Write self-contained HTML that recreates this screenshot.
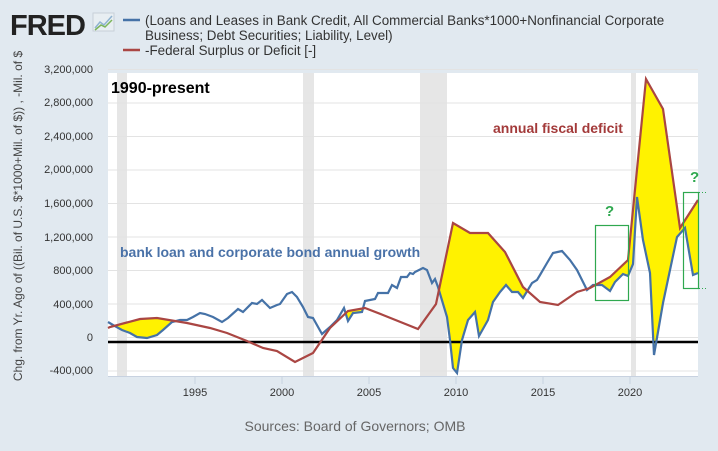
<!DOCTYPE html>
<html><head><style>
body{margin:0;width:718px;height:451px;background:#e1e9f0;overflow:hidden;font-family:"Liberation Sans",sans-serif}
</style></head><body>
<svg width="718" height="451" xmlns="http://www.w3.org/2000/svg" style="position:absolute;left:0;top:0">
<defs>
<clipPath id="abovBlue"><polygon points="108,73 108,322 113,325 122,330 130,333 137,337 147,338 157,335 163,330 172,322 180,320 187,320 193,317 200,313 205,314 213,317 222,322 228,318 238,309 243,312 252,303 257,304 262,300 270,308 277,305 280,304 287,294 292,292 297,297 303,307 308,317 313,318 322,334 330,327 337,320 344,308 348,321 353,313 362,312 365,301 375,299 378,293 388,293 392,285 397,288 401,277 407,277 410,273 413,274 415,272 423,268 427,270 432,283 435,279 438,287 447,317 450,340 453,368 457,373 462,340 468,320 475,312 479,336 488,320 493,302 500,292 506,285 512,292 518,292 523,298 532,283 537,280 540,275 547,263 553,253 562,251 570,260 577,270 587,290 593,285 602,285 610,291 615,282 623,274 628,276 633,264 637,197 643,240 650,273 654,355 663,303 677,237 685,228 693,275 698,273 698,73"/></clipPath>
</defs>
<rect x="108" y="73" width="590" height="303" fill="#fff"/>
<g fill="#e6e6e6"><rect x="117" y="73" width="10" height="303"/><rect x="303" y="73" width="11" height="303"/><rect x="420" y="73" width="27" height="303"/><rect x="631" y="73" width="5" height="303"/></g>
<g stroke="#e3e3e3" stroke-width="1">
<line x1="108" x2="698" y1="69.5" y2="69.5"/><line x1="108" x2="698" y1="103" y2="103"/><line x1="108" x2="698" y1="136.5" y2="136.5"/><line x1="108" x2="698" y1="170" y2="170"/><line x1="108" x2="698" y1="203.5" y2="203.5"/><line x1="108" x2="698" y1="237" y2="237"/><line x1="108" x2="698" y1="270.5" y2="270.5"/><line x1="108" x2="698" y1="304" y2="304"/><line x1="108" x2="698" y1="337.5" y2="337.5"/><line x1="108" x2="698" y1="371" y2="371"/>
</g>
<line x1="108" x2="698" y1="376.5" y2="376.5" stroke="#c8d2e0"/>
<g stroke="#c8d2e0"><line x1="195" x2="195" y1="376" y2="384"/><line x1="282" x2="282" y1="376" y2="384"/><line x1="369" x2="369" y1="376" y2="384"/><line x1="456" x2="456" y1="376" y2="384"/><line x1="543" x2="543" y1="376" y2="384"/><line x1="630" x2="630" y1="376" y2="384"/></g>
<polygon clip-path="url(#abovBlue)" fill="#fff200" points="108,376 108,328 110,327 140,319 157,318 187,323 210,328 227,333 247,341 263,348 277,351 295,362 313,353 330,328 348,311 365,308 383,315 418,329 436,304 453,223 470,233 488,233 505,252 523,287 540,302 558,305 577,292 590,288 610,277 628,260 646,79 663,109 680,228 698,200 698,376"/>
<line x1="108" x2="698" y1="342" y2="342" stroke="#000" stroke-width="2.5"/>
<polyline fill="none" stroke="#4572a7" stroke-width="2.2" points="108,322 113,325 122,330 130,333 137,337 147,338 157,335 163,330 172,322 180,320 187,320 193,317 200,313 205,314 213,317 222,322 228,318 238,309 243,312 252,303 257,304 262,300 270,308 277,305 280,304 287,294 292,292 297,297 303,307 308,317 313,318 322,334 330,327 337,320 344,308 348,321 353,313 362,312 365,301 375,299 378,293 388,293 392,285 397,288 401,277 407,277 410,273 413,274 415,272 423,268 427,270 432,283 435,279 438,287 447,317 450,340 453,368 457,373 462,340 468,320 475,312 479,336 488,320 493,302 500,292 506,285 512,292 518,292 523,298 532,283 537,280 540,275 547,263 553,253 562,251 570,260 577,270 587,290 593,285 602,285 610,291 615,282 623,274 628,276 633,264 637,197 643,240 650,273 654,355 663,303 677,237 685,228 693,275 698,273"/>
<polyline fill="none" stroke="#aa4643" stroke-width="2.2" points="108,328 110,327 140,319 157,318 187,323 210,328 227,333 247,341 263,348 277,351 295,362 313,353 330,328 348,311 365,308 383,315 418,329 436,304 453,223 470,233 488,233 505,252 523,287 540,302 558,305 577,292 590,288 610,277 628,260 646,79 663,109 680,228 698,200"/>
<g fill="none" stroke="#2fa84f" stroke-width="1.2"><rect x="595.5" y="225.5" width="33" height="75"/><rect x="683.5" y="192.5" width="15" height="96"/></g>
<g stroke="#2fa84f" stroke-dasharray="1,2"><line x1="699" x2="706" y1="192.5" y2="192.5"/><line x1="699" x2="706" y1="288.5" y2="288.5"/></g>
<g font-family="'Liberation Sans','Noto Sans CJK SC',sans-serif" font-weight="bold">
<text x="111" y="93" font-size="16" fill="#000">1990-present</text>
<text x="493" y="133" font-size="14" fill="#a33a3a">annual fiscal deficit</text>
<text x="120" y="257" font-size="14" fill="#4a72a8">bank loan and corporate bond annual growth</text>
<text x="605" y="216" font-size="15" fill="#2fa84f">?</text>
<text x="690" y="182" font-size="15" fill="#2fa84f">?</text>
</g>
<g font-size="11" fill="#333" text-anchor="end">
<text x="93" y="73">3,200,000</text><text x="93" y="106">2,800,000</text><text x="93" y="140">2,400,000</text><text x="93" y="173">2,000,000</text><text x="93" y="207">1,600,000</text><text x="93" y="241">1,200,000</text><text x="93" y="274">800,000</text><text x="93" y="308">400,000</text><text x="93" y="341">0</text><text x="93" y="374">-400,000</text>
</g>
<g font-size="11" fill="#333" text-anchor="middle">
<text x="195" y="396">1995</text><text x="282" y="396">2000</text><text x="369" y="396">2005</text><text x="456" y="396">2010</text><text x="543" y="396">2015</text><text x="630" y="396">2020</text>
</g>
<text transform="translate(22,216) rotate(-90)" font-size="12" fill="#444" text-anchor="middle">Chg. from Yr. Ago of ((Bil. of U.S. $*1000+Mil. of $)) , -Mil. of $</text>
<text x="355" y="431" font-size="14" fill="#666" text-anchor="middle">Sources: Board of Governors; OMB</text>
<text x="10" y="35" font-size="29" font-weight="bold" fill="#222" letter-spacing="-1">FRED</text>
<rect x="93" y="13" width="21" height="18" fill="#e8eef2" stroke="#c8d0d8"/>
<polyline points="95,28 100,22 104,25 112,16" fill="none" stroke="#8fb3d0" stroke-width="1.5"/>
<polyline points="95,30 101,25 105,27 112,20" fill="none" stroke="#7cb55a" stroke-width="1.5"/>
<line x1="123" x2="140" y1="20" y2="20" stroke="#4572a7" stroke-width="2.5"/>
<line x1="123" x2="140" y1="50" y2="50" stroke="#aa4643" stroke-width="2.5"/>
<g font-size="13.4" fill="#333">
<text x="145" y="25">(Loans and Leases in Bank Credit, All Commercial Banks*1000+Nonfinancial Corporate</text>
<text x="145" y="40">Business; Debt Securities; Liability, Level)</text>
<text x="145" y="55">-Federal Surplus or Deficit [-]</text>
</g>
</svg>
</body></html>
